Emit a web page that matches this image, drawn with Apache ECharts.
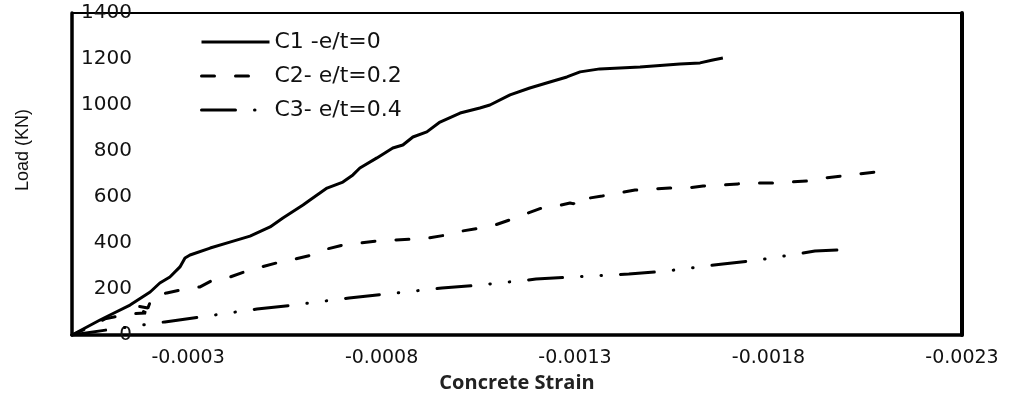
<!DOCTYPE html>
<html>
<head>
<meta charset="utf-8">
<script src="https://cdn.jsdelivr.net/npm/echarts@6/dist/echarts.min.js"></script>
<style>
  html, body { margin: 0; padding: 0; background: #fff; }
  #chart { width: 1011px; height: 394px; }
</style>
</head>
<body>
<div id="chart"></div>
<script>
// ====== data (strain is negative = compression) ======
const seriesNames = ["C1 -e/t=0", "C2- e/t=0.2", "C3- e/t=0.4"];

const c1Strain = [0, -0.0000724, -0.0000982, -0.000150, -0.000202, -0.000227, -0.000253, -0.000279,
  -0.000292, -0.000305, -0.000357, -0.000408, -0.000460, -0.000512, -0.000545, -0.000597,
  -0.000615, -0.000659, -0.000700, -0.000726, -0.000744, -0.000788, -0.000829, -0.000855,
  -0.000881, -0.000917, -0.000951, -0.001003, -0.001054, -0.001080, -0.001132, -0.001183,
  -0.001209, -0.001235, -0.001279, -0.001313, -0.001364, -0.001468, -0.001571, -0.001623,
  -0.001656, -0.001682];
const c1Load = [0, 65, 87, 130, 187, 226, 252, 296,
  335, 348, 378, 404, 430, 470, 509, 565,
  587, 639, 665, 696, 726, 770, 813, 826,
  861, 883, 926, 965, 987, 1000, 1044, 1074,
  1087, 1100, 1122, 1144, 1157, 1165, 1178, 1183,
  1196, 1204];

const c2Strain = [0, -0.0000465, -0.0000853, -0.000145, -0.000191, -0.000155, -0.000196, -0.000207,
  -0.000245, -0.000292, -0.000331, -0.000364, -0.000408, -0.000460, -0.000537, -0.000576,
  -0.000620, -0.000659, -0.000700, -0.000744, -0.000788, -0.000835, -0.000879, -0.000920,
  -0.000969, -0.001008, -0.001054, -0.001093, -0.001137, -0.001171, -0.001214, -0.001253,
  -0.001287, -0.001297, -0.001302, -0.001320, -0.001370, -0.001411, -0.001455, -0.001499,
  -0.001545, -0.001589, -0.001631, -0.001680, -0.001721, -0.001765, -0.001811, -0.001855,
  -0.001902, -0.001946, -0.001990, -0.002031, -0.002080, -0.002103];
const c2Load = [0, 35, 70, 91, 96, 130, 117, 165,
  183, 200, 209, 239, 252, 283, 317, 330,
  348, 374, 391, 400, 409, 413, 417, 422,
  435, 452, 465, 478, 504, 526, 552, 561,
  574, 570, 596, 591, 604, 617, 630, 635,
  639, 639, 648, 652, 657, 661, 661, 665,
  670, 683, 691, 700, 709, 713];

const c3Strain = [0, -0.0000904, -0.000240, -0.000331, -0.000478, -0.000571, -0.000716, -0.000811,
  -0.000956, -0.001052, -0.001199, -0.001292, -0.001439, -0.001535, -0.001682, -0.001775,
  -0.001920, -0.001984];
const c3Load = [0, 22, 57, 78, 113, 130, 161, 178,
  204, 217, 243, 252, 265, 278, 309, 326,
  365, 370];

const xTickMin = -0.0023, xTickMax = 0, xTickStep = 0.0005;
const yTickMin = 0, yTickMax = 1400, yTickStep = 200;

const pairs = (xs, ys) => xs.map((x, i) => [x, ys[i]]);

const chart = echarts.init(document.getElementById("chart"));

const labelFont = { color: "#111", fontFamily: "DejaVu Sans", fontSize: 19 };

chart.setOption({
  animation: false,
  grid: {
    left: 72, right: 49, top: 13, bottom: 59,
    outerBoundsMode: "none",
    show: true, borderColor: "#000", borderWidth: 2,
  },
  legend: {
    orient: "vertical",
    left: 200,
    top: 31,
    padding: 0,
    itemWidth: 68,
    itemHeight: 14,
    itemGap: 12,
    itemStyle: { opacity: 0 },
    lineStyle: { width: 3 },
    textStyle: { color: "#111", fontFamily: "DejaVu Sans", fontSize: 22 },
    data: seriesNames,
  },
  xAxis: {
    type: "value",
    inverse: true,
    min: xTickMin,
    max: xTickMax,
    interval: xTickStep,
    name: "Concrete Strain",
    nameLocation: "middle",
    nameGap: 37,
    nameTextStyle: { color: "#222", fontFamily: "Open Sans", fontWeight: "bold", fontSize: 20 },
    axisLine: { lineStyle: { color: "#000", width: 3.5 } },
    axisTick: { show: false },
    splitLine: { show: false },
    axisLabel: {
      ...labelFont,
      margin: 14,
      formatter: (v) => (Math.abs(v) < 1e-9 ? "" : v.toFixed(4)),
    },
  },
  yAxis: [
    {
      type: "value",
      min: yTickMin,
      max: yTickMax,
      interval: yTickStep,
      name: "Load (KN)",
      nameLocation: "middle",
      nameGap: 40,
      nameTextStyle: { color: "#111", fontFamily: "Liberation Sans", fontSize: 18, padding: [0, 0, 0, 48] },
      axisLine: { show: true, lineStyle: { color: "#000", width: 3.5 } },
      axisTick: { show: false },
      splitLine: { show: false },
      axisLabel: {
        ...labelFont,
        fontSize: 20,
        inside: true,
        align: "right",
        margin: 60,
        formatter: (v) => String(v),
      },
    },
    {
      type: "value",
      position: "right",
      min: yTickMin,
      max: yTickMax,
      interval: yTickStep,
      axisLine: { show: true, lineStyle: { color: "#000", width: 4 } },
      axisTick: { show: false },
      axisLabel: { show: false },
      splitLine: { show: false },
    },
  ],
  series: [
    {
      name: seriesNames[0],
      type: "line",
      symbol: "none",
      lineStyle: { color: "#000", width: 3 },
      itemStyle: { color: "#000" },
      data: pairs(c1Strain, c1Load),
    },
    {
      name: seriesNames[1],
      type: "line",
      symbol: "none",
      lineStyle: { color: "#000", width: 3, type: [13, 21], cap: "round" },
      itemStyle: { color: "#000" },
      data: pairs(c2Strain, c2Load),
    },
    {
      name: seriesNames[2],
      type: "line",
      symbol: "none",
      lineStyle: { color: "#000", width: 3, type: [34, 19, 0.5, 19, 0.5, 19], cap: "round" },
      itemStyle: { color: "#000" },
      data: pairs(c3Strain, c3Load),
    },
  ],
});
</script>
</body>
</html>
